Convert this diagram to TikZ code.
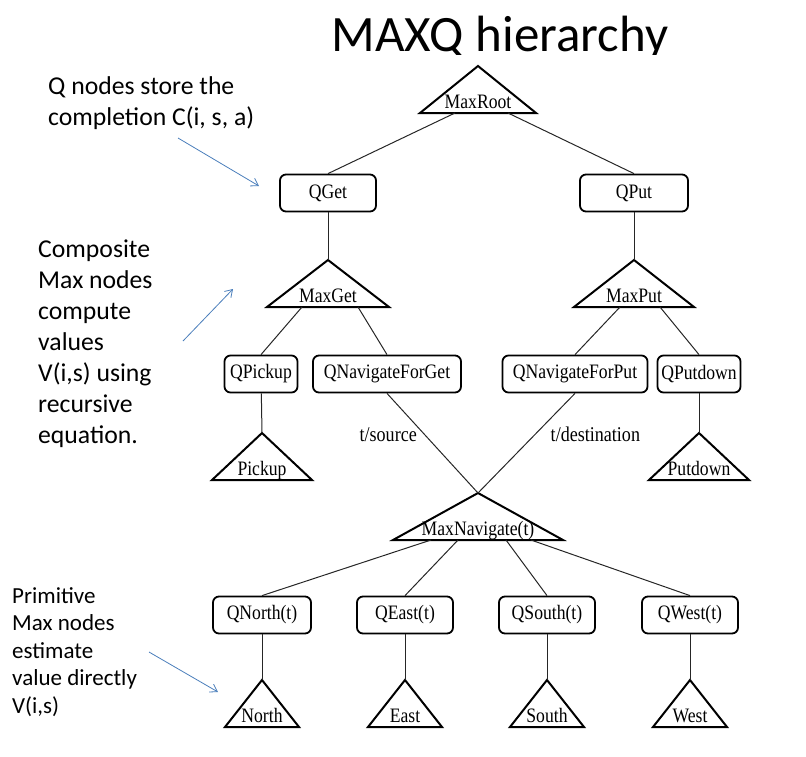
\documentclass[tikz,border=0pt]{standalone}
\usepackage{fontspec}
\setmainfont{Liberation Serif}
\newfontfamily\notefont{Carlito}
\newfontfamily\treefont[FakeStretch=0.86]{Liberation Serif}
\usetikzlibrary{arrows.meta,positioning}
\definecolor{noteblue}{RGB}{74,126,187}

% a Max node: name, apex x, apex y, half width, label
\newcommand\maxnode[5]{%
  \coordinate (#1-top) at (#2,#3);
  \coordinate (#1) at (#2,#3+47);
  \draw[maxtri] (#1-top) -- ++(-#4,47) -- ++(2*#4,0) -- cycle;
  \node[maxlabel] (#1-label) at (#2,#3+42) {#5};}

\begin{document}
\begin{tikzpicture}[x=1pt,y=-1pt,
  qbox/.style={draw, line width=1.8pt, rounded corners=6pt, minimum height=37pt,
    inner sep=0pt, font=\treefont\fontsize{20.5}{21}\selectfont},
  maxtri/.style={line width=2pt, line join=miter},
  maxlabel/.style={inner sep=0pt, anchor=base, font=\treefont\fontsize{20.5}{21}\selectfont},
  link/.style={draw=black!85, line width=1pt},
  edgelabel/.style={inner sep=0pt, font=\treefont\fontsize{21}{22}\selectfont},
  note/.style={align=left, anchor=base west, inner sep=0pt,
    font=\notefont\fontsize{25.7}{31}\selectfont},
  smallnote/.style={note, font=\notefont\fontsize{23}{27.5}\selectfont},
  pointer/.style={draw=noteblue, line width=0.8pt, -{Straight Barb[length=7pt,width=9pt]}}]
  \useasboundingbox (0,0) rectangle (806,756);
  % title
  \begin{scope}
    \clip (300,0) rectangle (700,54);
    \node[anchor=base, inner sep=0pt, font=\notefont\fontsize{51}{52}\selectfont]
      (title) at (500,51) {MAXQ hierarchy};
  \end{scope}
  % max nodes
  \maxnode{maxroot}{478}{66}{58}{MaxRoot}
  \maxnode{maxget}{328}{260}{61}{MaxGet}
  \maxnode{maxput}{634}{260}{60}{MaxPut}
  \maxnode{pickup}{262}{433}{50}{Pickup}
  \maxnode{putdown}{699}{433}{50}{Putdown}
  \maxnode{maxnav}{478}{493}{85}{MaxNavigate(t)}
  \maxnode{north}{262}{680}{37}{North}
  \maxnode{east}{405}{680}{37}{East}
  \maxnode{south}{547}{680}{37}{South}
  \maxnode{west}{690}{680}{37}{West}
  % q nodes
  \node[qbox, minimum width=96pt] (qget) at (328,193) {QGet};
  \node[qbox, minimum width=108pt] (qput) at (634,193) {QPut};
  \node[qbox, minimum width=73pt] (qpickup) at (261,374) {QPickup};
  \node[qbox, minimum width=148pt] (qnavget) at (387,374) {QNavigateForGet};
  \node[qbox, minimum width=145pt] (qnavput) at (575,374) {QNavigateForPut};
  \node[qbox, minimum width=83pt] (qputdown) at (699,374) {QPutdown};
  \node[qbox, minimum width=98pt] (qnorth) at (262,615) {QNorth(t)};
  \node[qbox, minimum width=96pt] (qeast) at (405,615) {QEast(t)};
  \node[qbox, minimum width=96pt] (qsouth) at (547,615) {QSouth(t)};
  \node[qbox, minimum width=96pt] (qwest) at (690,615) {QWest(t)};
  % links
  \draw[link] ([xshift=-23pt]maxroot) -- (qget.north);
  \draw[link] ([xshift=30pt]maxroot) -- (qput.north);
  \draw[link] (qget) -- (maxget-top);
  \draw[link] (qput) -- (maxput-top);
  \draw[link] ([xshift=-26pt]maxget) -- (qpickup.north);
  \draw[link] ([xshift=30pt]maxget) -- (qnavget.north);
  \draw[link] ([xshift=-14pt]maxput) -- (qnavput.north);
  \draw[link] ([xshift=26pt]maxput) -- (qputdown.north);
  \draw[link] (qpickup) -- (pickup-top);
  \draw[link] (qputdown) -- (putdown-top);
  \draw[link] (qnavget.south) -- node[edgelabel, pos=0.41, left=7pt] (tsource) {t/source} (maxnav-top);
  \draw[link] (qnavput.south) -- node[edgelabel, pos=0.41, right=15pt] (tdest) {t/destination} (maxnav-top);
  \draw[link] ([xshift=-47pt]maxnav) -- (qnorth.north);
  \draw[link] ([xshift=-20pt]maxnav) -- (qeast.north);
  \draw[link] ([xshift=28pt]maxnav) -- (qsouth.north);
  \draw[link] ([xshift=53pt]maxnav) -- (qwest.north);
  \foreach \q/\m in {qnorth/north, qeast/east, qsouth/south, qwest/west}
    \draw[link] (\q) -- (\m-top);
  % notes (anchored at the last baseline)
  \node[note] (qnote) at (48,125) {Q nodes store the\\completion C(i, s, a)};
  \node[note] (maxnote) at (38,443) {Composite\\Max nodes\\compute\\values\\V(i,s) using\\recursive\\equation.};
  \node[smallnote] (primnote) at (12,713) {Primitive\\Max nodes\\estimate\\value directly\\V(i,s)};
  \coordinate (qfrom) at (178,138);
  \coordinate (qto) at (259,186);
  \coordinate (maxfrom) at (183,341);
  \coordinate (maxto) at (233,289);
  \coordinate (primfrom) at (149,652);
  \coordinate (primto) at (218,692);
  \draw[pointer] (qfrom) -- (qto);
  \draw[pointer] (maxfrom) -- (maxto);
  \draw[pointer] (primfrom) -- (primto);
\end{tikzpicture}
\end{document}
